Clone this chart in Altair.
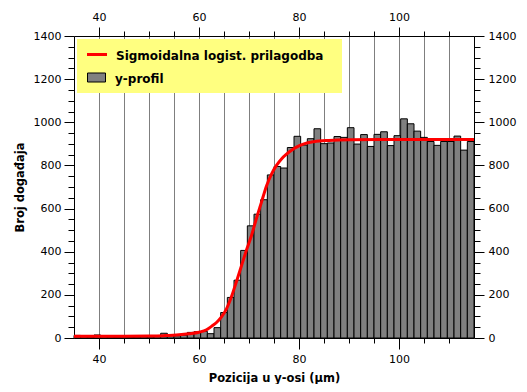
import altair as alt
import pandas as pd

# ---- data ----
bin_start = 35.0
bin_width = 4.0 / 3.0
counts = [12, 6, 4, 14, 6, 4, 3, 4, 3, 4, 5, 4, 6, 22, 12, 10, 13, 26, 29, 31,
          20, 48, 118, 188, 268, 406, 520, 574, 641, 756, 795, 788, 883, 935,
          894, 924, 970, 901, 904, 934, 930, 975, 899, 943, 888, 944, 956, 892,
          938, 1016, 993, 959, 930, 911, 893, 911, 911, 936, 871, 911]

fit_x = [35, 40, 45, 50, 53, 56, 58, 60, 61.5, 62.5, 63.5, 64.5, 65.5, 66.5,
         67.5, 68.5, 69.5, 70.5, 71.5, 72.5, 73.5, 74.5, 75.5, 76.5, 77.5,
         78.5, 79.5, 81, 83, 86, 90, 100, 115]
fit_y = [8, 8, 8, 9, 11, 15, 20, 27, 38, 54, 72, 98, 135, 192, 262, 335, 408,
         475, 555, 630, 705, 760, 800, 830, 852, 870, 885, 900, 910, 916, 919,
         920, 920]

legend_labels = [" Sigmoidalna logist. prilagodba", "y-profil"]
x_title = "Pozicija u y-osi (µm)"
y_title = "Broj događaja"

x_ticks = [40, 45, 50, 55, 60, 65, 70, 75, 80, 85, 90, 95, 100, 105, 110]
y_ticks = list(range(0, 1401, 50))

bars_df = pd.DataFrame({
    "x0": [bin_start + i * bin_width for i in range(len(counts))],
    "x1": [bin_start + (i + 1) * bin_width for i in range(len(counts))],
    "count": counts,
})
line_df = pd.DataFrame({"x": fit_x, "y": fit_y})

FONT = "DejaVu Sans"
xscale = alt.Scale(domain=[35, 115], nice=False, zero=False)
yscale = alt.Scale(domain=[0, 1400], nice=False)

x_label_expr = "datum.value % 20 == 0 ? datum.label : ''"
y_label_expr = "datum.value % 200 == 0 ? datum.label : ''"

common = dict(labelFont=FONT, labelFontSize=11, labelColor="black",
              tickColor="black", domainColor="black", domainWidth=1,
              tickWidth=1, labelOverlap=False, format="d")

bottom_axis = alt.Axis(orient="bottom", values=x_ticks, labelExpr=x_label_expr,
                       tickSize={"condition": {"test": "datum.value % 20 == 0", "value": 11}, "value": 5},
                       labelPadding=4, grid=True, gridColor="#7f7f7f", gridWidth=1,
                       title=x_title, titleFont=FONT, titleFontSize=11.5,
                       titleFontWeight="bold", titleColor="black",
                       titleBaseline="middle", titleY=40, labelFlush=False, **common)
top_axis = alt.Axis(orient="top", values=x_ticks, labelExpr=x_label_expr,
                    tickSize={"condition": {"test": "datum.value % 20 == 0", "value": 9}, "value": 5},
                    labelPadding=5, grid=False, title=None, labelFlush=False, **common)
left_axis = alt.Axis(orient="left", values=y_ticks, labelExpr=y_label_expr,
                     tickSize={"condition": {"test": "datum.value % 200 == 0", "value": 10}, "value": 6},
                     labelPadding=3, grid=False,
                     title=y_title, titleFont=FONT, titleFontSize=11.5,
                     titleFontWeight="bold", titleColor="black", titleAngle=270,
                     titleBaseline="middle", titleX=-54, titleY=151, **common)
right_axis = alt.Axis(orient="right", values=y_ticks, labelExpr=y_label_expr,
                      tickSize={"condition": {"test": "datum.value % 200 == 0", "value": 10}, "value": 6},
                      labelPadding=4, grid=False, title=None, **common)

bars = alt.Chart(bars_df).mark_rect(color="#808080", stroke="black", strokeWidth=1).encode(
    x=alt.X("x0:Q", scale=xscale, axis=bottom_axis),
    x2="x1:Q",
    y=alt.Y("count:Q", scale=yscale, axis=left_axis),
    y2=alt.datum(0),
)

line = alt.Chart(line_df).mark_line(color="#ff0000", strokeWidth=3, interpolate="monotone").encode(
    x=alt.X("x:Q", scale=xscale, axis=top_axis),
    y=alt.Y("y:Q", scale=yscale, axis=right_axis),
)

one = pd.DataFrame({"a": [0]})
leg_bg = alt.Chart(one).mark_rect(color="#ffff80").encode(
    x=alt.value(3), x2=alt.value(268), y=alt.value(3), y2=alt.value(57))
leg_line = alt.Chart(one).mark_rule(color="#ff0000", strokeWidth=3).encode(
    x=alt.value(13), x2=alt.value(33), y=alt.value(18.5))
leg_box = alt.Chart(one).mark_rect(color="#808080", stroke="black", strokeWidth=1).encode(
    x=alt.value(13.5), x2=alt.value(31.5), y=alt.value(37), y2=alt.value(46))
leg_t1 = alt.Chart(pd.DataFrame({"label": [legend_labels[0]]})).mark_text(
    align="left", baseline="middle", font=FONT, fontSize=12, fontWeight="bold", color="black"
).encode(x=alt.value(42), y=alt.value(20), text="label:N")
leg_t2 = alt.Chart(pd.DataFrame({"label": [legend_labels[1]]})).mark_text(
    align="left", baseline="middle", font=FONT, fontSize=12, fontWeight="bold", color="black"
).encode(x=alt.value(41), y=alt.value(42.5), text="label:N")

chart = alt.layer(bars, line, leg_bg, leg_line, leg_box, leg_t1, leg_t2).resolve_axis(
    x="independent", y="independent"
).properties(
    width=400, height=302,
    autosize=alt.AutoSizeParams(type="none"),
    padding={"left": 66, "top": 28, "right": 45, "bottom": 46},
).configure_view(stroke=None).configure(background="white")

chart.save("out.html", embed_options={"renderer": "svg", "actions": False})
